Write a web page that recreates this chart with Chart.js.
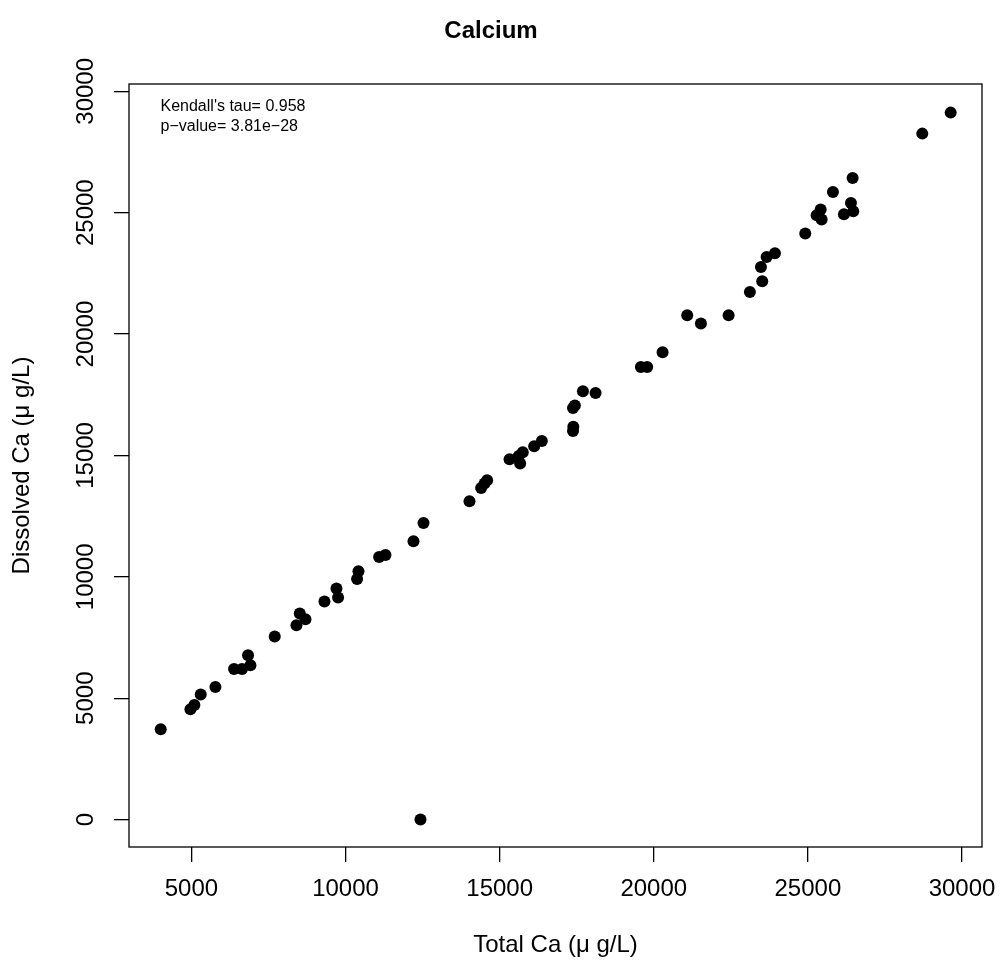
<!DOCTYPE html>
<html>
<head>
<meta charset="utf-8">
<script src="https://cdn.jsdelivr.net/npm/chart.js@4.4.0/dist/chart.umd.min.js"></script>
<style>
  html, body { margin: 0; padding: 0; background: #fff; }
  #wrap { width: 1001px; height: 963px; }
</style>
</head>
<body>
<div id="wrap"><canvas id="c" width="1001" height="963"></canvas></div>
<script>
// ---- data ----
const totalCa = [
  4004, 4968, 5097, 5302, 5779, 6383, 6642, 6837, 6915, 7703,
  8408, 8515, 8700, 9316, 9706, 9758, 10375, 10420, 11089, 11296,
  12205, 12432, 12529, 14022, 14399, 14509, 14594, 15321, 15665, 15620,
  15750, 16119, 16369, 17380, 17390, 17380, 17440, 17702, 18112, 19582,
  19787, 20286, 21085, 21530, 22428, 23119, 23519, 23477, 23662, 23931,
  24915, 25284, 25414, 25446, 25813, 26170, 26397, 26472, 26452, 28712,
  29633
];
const dissolvedCa = [
  3720, 4543, 4721, 5149, 5462, 6203, 6203, 6768, 6356, 7538,
  8003, 8485, 8251, 8980, 9515, 9145, 9911, 10228, 10817, 10899,
  11464, 0, 12218, 13111, 13659, 13840, 13976, 14841, 14664, 14980,
  15130, 15377, 15595, 16010, 16180, 16950, 17060, 17642, 17572, 18643,
  18643, 19249, 20773, 20431, 20773, 21733, 22173, 22763, 23175, 23327,
  24138, 24892, 25127, 24715, 25852, 24933, 25398, 25056, 26428, 28257,
  29122
];
const xTicks = [5000, 10000, 15000, 20000, 25000, 30000];
const yTicks = [0, 5000, 10000, 15000, 20000, 25000, 30000];
const chartTitle = 'Calcium';
const xTitle = 'Total Ca (\u03bc g/L)';
const yTitle = 'Dissolved Ca (\u03bc g/L)';
const statLines = ["Kendall's tau= 0.958", 'p\u2212value= 3.81e\u221228'];

const FONT = '"Liberation Sans", Arial, Helvetica, sans-serif';

const points = totalCa.map((x, i) => ({ x: x, y: dissolvedCa[i] }));

const boxPlugin = {
  id: 'boxPlugin',
  afterDraw(chart) {
    const { ctx, chartArea: a, scales } = chart;
    ctx.save();
    ctx.strokeStyle = '#000';
    ctx.lineWidth = 1.3;
    ctx.strokeRect(a.left, a.top, a.right - a.left, a.bottom - a.top);
    // rotated y tick labels
    ctx.fillStyle = '#000';
    ctx.font = '24px ' + FONT;
    ctx.textAlign = 'center';
    ctx.textBaseline = 'alphabetic';
    yTicks.forEach(v => {
      const py = scales.y.getPixelForValue(v);
      ctx.save();
      ctx.translate(a.left - 36, py);
      ctx.rotate(-Math.PI / 2);
      ctx.fillText(String(v), 0, 0);
      ctx.restore();
    });
    // statistics annotation
    ctx.font = '16px ' + FONT;
    ctx.textAlign = 'left';
    statLines.forEach((t, i) => {
      ctx.fillText(t, a.left + 31.5, a.top + 27 + i * 19.8);
    });
    ctx.restore();
  }
};

new Chart(document.getElementById('c'), {
  type: 'scatter',
  data: {
    datasets: [{
      data: points,
      backgroundColor: '#000',
      borderColor: '#000',
      pointRadius: 6,
      pointHoverRadius: 6,
      borderWidth: 0
    }]
  },
  options: {
    responsive: false,
    animation: false,
    events: [],
    layout: { padding: { left: 0, right: 19, top: 0, bottom: 0 } },
    plugins: {
      legend: { display: false },
      tooltip: { enabled: false },
      title: {
        display: true,
        text: chartTitle,
        color: '#000',
        font: { family: FONT, size: 24, weight: 'bold', lineHeight: 1.2 },
        padding: { top: 17, bottom: 38.2 }
      }
    },
    scales: {
      x: {
        type: 'linear',
        min: 2975,
        max: 30649,
        afterBuildTicks: s => { s.ticks = xTicks.map(v => ({ value: v })); },
        afterFit: s => { s.height = 116; s.paddingLeft = 0; s.paddingRight = 0; },
        grid: { display: true, drawOnChartArea: false, drawTicks: true, tickLength: 15, color: '#000', lineWidth: 1.3 },
        border: { display: false },
        ticks: {
          color: '#000',
          font: { family: FONT, size: 24, lineHeight: 1.2 },
          padding: 13,
          maxRotation: 0,
          minRotation: 0,
          autoSkip: false,
          callback: v => String(v)
        },
        title: {
          display: true,
          text: xTitle,
          color: '#000',
          font: { family: FONT, size: 24, lineHeight: 1.2 },
          padding: { top: 0, bottom: 3.6 }
        }
      },
      y: {
        type: 'linear',
        min: -1129,
        max: 30301,
        afterBuildTicks: s => { s.ticks = yTicks.map(v => ({ value: v })); },
        afterFit: s => { s.width = 129; s.paddingTop = 0; s.paddingBottom = 0; },
        grid: { display: true, drawOnChartArea: false, drawTicks: true, tickLength: 15, color: '#000', lineWidth: 1.3 },
        border: { display: false },
        ticks: {
          display: false
        },
        title: {
          display: true,
          text: yTitle,
          color: '#000',
          font: { family: FONT, size: 24, lineHeight: 1.2 },
          padding: { top: 7.6, bottom: 0 }
        }
      }
    }
  },
  plugins: [boxPlugin]
});
</script>
</body>
</html>
